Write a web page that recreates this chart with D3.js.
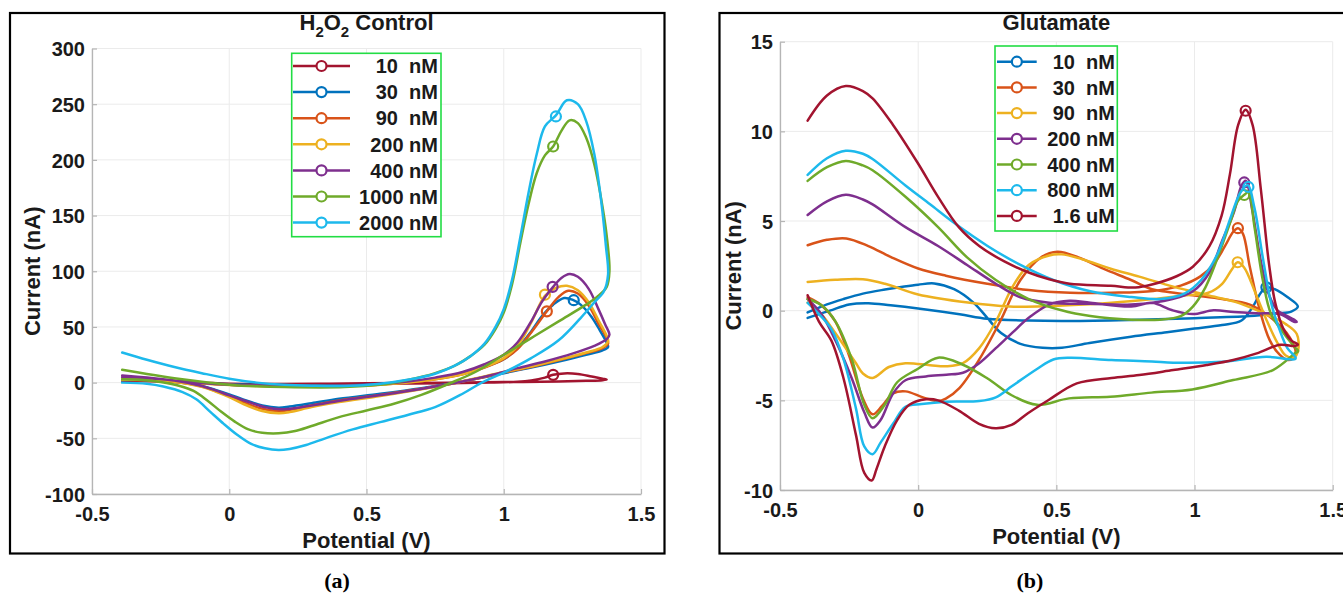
<!DOCTYPE html>
<html>
<head>
<meta charset="utf-8">
<script src="https://cdn.jsdelivr.net/npm/d3@7"></script>
<style>
    html, body { margin: 0; padding: 0; background: #ffffff; }
    svg { display: block; }
    text { font-weight: bold; fill: #1a1a1a; }
</style>
</head>
<body>
<script>
// ---------- shared axis ticks ----------
const xTicks = [-0.5, 0, 0.5, 1, 1.5];
const h2o2YTicks = [-100, -50, 0, 50, 100, 150, 200, 250, 300];
const gluYTicks = [-10, -5, 0, 5, 10, 15];

// MATLAB-like line colours (as they look in the figure)
const matlabColors = {
    blue: '#0072BD', orange: '#D95319', yellow: '#EDB120', purple: '#7E2F8E',
    green: '#6FAA2A', cyan: '#1DB9EC', red: '#A2142F'
};

// ---------- (a) H2O2 control ----------
const h2o2Labels = ['10  nM', '30  nM', '90  nM', '200 nM', '400 nM', '1000 nM', '2000 nM'];
const h2o2ColorKeys = ['red', 'blue', 'orange', 'yellow', 'purple', 'green', 'cyan'];

const h2o2_10nM = [[-0.39, 2.5], [-0.3, 1.5], [-0.2, 0.5], [-0.1, -0.5], [0, -1], [0.2, -1.2], [0.4, -1], [0.6, -0.8], [0.8, -0.5], [0.95, 0], [1.05, 0.8], [1.1, 2], [1.15, 4.5], [1.18, 7], [1.22, 8.3], [1.27, 7.8], [1.32, 5.5], [1.36, 3.5], [1.375, 2.8], [1.36, 2.2], [1.3, 1.6], [1.2, 1], [1.0, 0.5], [0.8, 0], [0.5, -0.6], [0.3, -1.2], [0.15, -1.5], [0, -1], [-0.1, 0], [-0.2, 0.8], [-0.3, 1.3], [-0.39, 1.5]];
const h2o2_30nM = [[-0.39, 3], [-0.3, 2.2], [-0.2, 1], [-0.1, -0.5], [0, -1.5], [0.1, -2.2], [0.2, -2.5], [0.4, -2.5], [0.55, -1.2], [0.65, 0.8], [0.75, 3.5], [0.85, 8], [0.93, 14], [1.0, 21], [1.05, 31], [1.1, 46], [1.14, 60], [1.18, 70], [1.22, 76], [1.25, 74.5], [1.28, 70], [1.32, 59], [1.35, 47], [1.375, 36], [1.38, 32], [1.36, 29], [1.3, 25], [1.2, 19], [1.1, 13.5], [1.0, 8.5], [0.9, 3.5], [0.8, -1], [0.7, -5], [0.55, -10], [0.4, -14.5], [0.3, -18.5], [0.22, -21.5], [0.18, -22.5], [0.12, -20.5], [0.05, -15], [0, -10.5], [-0.05, -6.5], [-0.1, -3], [-0.2, 1], [-0.3, 2.5], [-0.39, 3]];
const h2o2_90nM = [[-0.39, 4], [-0.3, 3], [-0.2, 1.5], [-0.1, -0.5], [0, -2], [0.1, -2.8], [0.2, -3], [0.4, -3], [0.55, -1.8], [0.65, 0.2], [0.75, 3], [0.85, 7.5], [0.93, 13.5], [1.0, 21], [1.05, 30], [1.1, 45], [1.157, 64], [1.2, 77], [1.235, 82.5], [1.27, 80], [1.31, 69], [1.345, 53], [1.375, 40], [1.38, 35], [1.36, 31], [1.3, 26.5], [1.2, 20], [1.1, 14], [1.0, 9], [0.9, 3.5], [0.8, -1.5], [0.7, -5.5], [0.55, -11], [0.4, -16], [0.3, -20.5], [0.22, -24.5], [0.18, -25.5], [0.12, -23.5], [0.05, -17.5], [0, -12], [-0.05, -7.5], [-0.1, -3.5], [-0.2, 0.8], [-0.3, 2.3], [-0.39, 2.5]];
const h2o2_200nM = [[-0.39, 3.5], [-0.3, 2.6], [-0.2, 1.2], [-0.1, -0.8], [0, -2.2], [0.1, -3], [0.2, -3.2], [0.4, -3.2], [0.55, -2], [0.65, 0], [0.75, 3], [0.85, 7.5], [0.93, 14], [1.0, 22], [1.05, 33], [1.1, 54], [1.15, 78], [1.19, 85], [1.23, 87], [1.27, 83], [1.31, 72], [1.345, 56], [1.375, 42], [1.38, 37], [1.36, 32], [1.3, 27], [1.2, 20.5], [1.1, 14.5], [1.0, 9.5], [0.9, 4], [0.8, -1.5], [0.7, -6], [0.55, -12], [0.4, -17.5], [0.3, -22], [0.22, -26.5], [0.18, -27.5], [0.12, -25.5], [0.05, -19], [0, -13], [-0.05, -8], [-0.1, -3.8], [-0.2, 0.8], [-0.3, 2.3], [-0.39, 2.5]];
const h2o2_400nM = [[-0.39, 6.5], [-0.3, 4.5], [-0.2, 2], [-0.1, -0.3], [0, -1.8], [0.1, -2.5], [0.2, -2.8], [0.4, -2.8], [0.55, -1.3], [0.65, 1], [0.75, 4.5], [0.85, 9.5], [0.93, 16.5], [1.0, 25], [1.05, 36], [1.1, 55], [1.14, 73], [1.18, 86], [1.21, 94], [1.24, 97.5], [1.27, 95], [1.31, 84], [1.345, 66], [1.37, 52], [1.385, 43], [1.375, 39], [1.33, 33], [1.25, 26], [1.15, 19], [1.05, 13], [0.95, 6.5], [0.85, 1], [0.75, -3.5], [0.6, -9.5], [0.45, -14.5], [0.35, -18.5], [0.25, -22.5], [0.19, -24], [0.13, -22], [0.06, -16.5], [0, -11.5], [-0.05, -7], [-0.1, -3], [-0.2, 2], [-0.3, 4], [-0.39, 5]];
const h2o2_1000nM = [[-0.39, 11.5], [-0.3, 7.8], [-0.2, 4], [-0.1, 0.8], [0, -1.8], [0.1, -3.3], [0.2, -4], [0.42, -4], [0.55, -1.8], [0.65, 2.4], [0.75, 8.5], [0.82, 15], [0.88, 24], [0.93, 34], [0.97, 48], [1.0, 63], [1.03, 88], [1.06, 125], [1.09, 160], [1.12, 188], [1.15, 204], [1.18, 212], [1.21, 226], [1.24, 235.5], [1.27, 233], [1.3, 220], [1.33, 196], [1.355, 165], [1.375, 132], [1.385, 100], [1.375, 86], [1.34, 77], [1.3, 70], [1.2, 55], [1.1, 40], [1.0, 25], [0.9, 10], [0.8, -1], [0.7, -11], [0.6, -19], [0.5, -25], [0.4, -31], [0.3, -39], [0.24, -43.5], [0.18, -45.5], [0.12, -45], [0.07, -42], [0.02, -35], [-0.03, -26], [-0.08, -16], [-0.13, -7.5], [-0.18, -3], [-0.25, 0.5], [-0.32, 2.5], [-0.39, 3]];
const h2o2_2000nM = [[-0.39, 27], [-0.3, 20.5], [-0.2, 14], [-0.1, 8.5], [0, 3.5], [0.1, 0], [0.2, -2], [0.3, -2.8], [0.42, -3], [0.55, -1], [0.65, 2.5], [0.75, 8], [0.82, 15], [0.88, 24], [0.93, 35], [0.97, 50], [1.0, 66], [1.03, 92], [1.06, 130], [1.09, 170], [1.12, 205], [1.15, 230], [1.19, 240], [1.23, 253.5], [1.27, 250], [1.3, 235], [1.33, 205], [1.355, 163], [1.372, 123], [1.38, 97], [1.365, 82], [1.33, 72], [1.28, 58], [1.2, 38], [1.1, 22], [1.0, 9], [0.92, 0], [0.85, -10], [0.75, -22], [0.65, -29], [0.55, -35.5], [0.45, -42], [0.35, -50], [0.28, -56], [0.22, -59.5], [0.18, -60.5], [0.13, -59], [0.08, -55], [0.03, -47], [-0.02, -37], [-0.07, -26], [-0.12, -15], [-0.17, -8.5], [-0.24, -3.5], [-0.3, -1], [-0.39, 0]];
const h2o2Markers = [[1.18, 7], [1.255, 74], [1.157, 64], [1.15, 79], [1.178, 86], [1.18, 212], [1.19, 239]];

// ---------- (b) Glutamate ----------
const gluLabels = ['10  nM', '30  nM', '90  nM', '200 nM', '400 nM', '800 nM', '1.6 uM'];
const gluColorKeys = ['blue', 'orange', 'yellow', 'purple', 'green', 'cyan', 'red'];

const glu_10nM = [[-0.4, -0.1], [-0.33, 0.35], [-0.27, 0.65], [-0.2, 0.95], [-0.12, 1.18], [-0.05, 1.35], [0.0, 1.45], [0.058, 1.52], [0.13, 1.2], [0.2, 0.45], [0.25, -0.4], [0.3, -1.25], [0.37, -1.85], [0.45, -2.07], [0.52, -2.07], [0.62, -1.8], [0.77, -1.45], [0.9, -1.2], [1.0, -1.0], [1.1, -0.8], [1.17, -0.55], [1.21, 0.2], [1.24, 1.0], [1.26, 1.3], [1.29, 1.2], [1.336, 0.76], [1.374, 0.23], [1.35, -0.05], [1.3, -0.15], [1.2, -0.3], [1.0, -0.42], [0.8, -0.5], [0.55, -0.57], [0.4, -0.55], [0.25, -0.45], [0.15, -0.2], [0.0, 0.12], [-0.1, 0.3], [-0.18, 0.42], [-0.25, 0.35], [-0.32, 0.0], [-0.4, -0.4]];
const glu_30nM = [[-0.4, 3.65], [-0.33, 3.95], [-0.26, 4.03], [-0.18, 3.6], [-0.1, 3.0], [0.0, 2.35], [0.1, 1.95], [0.25, 1.5], [0.4, 1.15], [0.55, 1.0], [0.7, 1.0], [0.85, 1.1], [0.95, 1.4], [1.02, 1.9], [1.07, 2.6], [1.11, 3.6], [1.14, 4.4], [1.157, 4.6], [1.175, 4.3], [1.2, 2.45], [1.236, 0.04], [1.272, -1.64], [1.309, -2.47], [1.338, -2.75], [1.36, -2.6], [1.366, -2.3], [1.345, -1.5], [1.32, -1.0], [1.26, -0.2], [1.2, 0.34], [1.1, 0.65], [1.0, 0.85], [0.9, 1.05], [0.846, 1.2], [0.77, 1.71], [0.67, 2.34], [0.58, 2.97], [0.504, 3.29], [0.444, 2.97], [0.37, 1.71], [0.296, -0.61], [0.221, -2.72], [0.15, -4.3], [0.1, -4.9], [0.072, -5.04], [0.02, -4.85], [-0.046, -4.5], [-0.091, -4.62], [-0.13, -5.3], [-0.165, -5.78], [-0.2, -4.9], [-0.25, -2.5], [-0.3, -0.6], [-0.35, 0.3], [-0.4, 0.75]];
const glu_90nM = [[-0.4, 1.6], [-0.3, 1.72], [-0.2, 1.75], [-0.12, 1.5], [0.0, 0.9], [0.18, 0.45], [0.33, 0.23], [0.47, 0.25], [0.7, 0.44], [0.85, 0.65], [0.97, 0.86], [1.05, 1.0], [1.1, 1.5], [1.135, 2.3], [1.156, 2.7], [1.18, 2.4], [1.22, 1.0], [1.26, -0.5], [1.3, -1.8], [1.33, -2.5], [1.36, -2.6], [1.375, -2.2], [1.37, -1.3], [1.33, -0.75], [1.25, -0.15], [1.164, 0.41], [1.044, 0.87], [0.923, 1.34], [0.8, 1.9], [0.697, 2.34], [0.593, 2.87], [0.519, 3.14], [0.474, 3.08], [0.4, 2.55], [0.34, 1.29], [0.281, -0.61], [0.221, -2.09], [0.162, -2.93], [0.102, -3.1], [0.043, -3.04], [-0.046, -2.93], [-0.106, -3.14], [-0.165, -3.75], [-0.2, -3.5], [-0.225, -2.93], [-0.3, -1.24], [-0.35, -0.2], [-0.4, 0.45]];
const glu_200nM = [[-0.4, 5.34], [-0.33, 6.1], [-0.262, 6.46], [-0.2, 6.2], [-0.165, 5.93], [-0.046, 4.66], [0.072, 3.61], [0.177, 2.55], [0.281, 1.5], [0.37, 0.75], [0.474, 0.44], [0.623, 0.38], [0.771, 0.34], [0.92, 0.65], [0.994, 1.08], [1.054, 2.13], [1.098, 3.82], [1.143, 5.51], [1.17, 6.98], [1.185, 7.25], [1.21, 5.51], [1.24, 2.76], [1.27, 0.86], [1.3, 0.02], [1.322, -0.19], [1.36, -0.5], [1.37, -0.62], [1.36, -0.62], [1.31, -0.2], [1.225, -0.15], [1.143, -0.08], [1.069, 0.02], [0.994, -0.19], [0.92, 0.02], [0.846, 0.44], [0.771, 0.23], [0.623, 0.44], [0.548, 0.55], [0.474, 0.34], [0.4, -0.4], [0.34, -1.24], [0.281, -2.09], [0.221, -2.93], [0.162, -3.46], [0.102, -3.57], [0.028, -3.67], [-0.046, -3.88], [-0.091, -4.62], [-0.136, -6.1], [-0.165, -6.52], [-0.195, -5.67], [-0.24, -3.78], [-0.299, -1.67], [-0.35, -0.2], [-0.4, 0.65]];
const glu_400nM = [[-0.4, 7.24], [-0.33, 8.0], [-0.262, 8.35], [-0.2, 8.1], [-0.165, 7.83], [-0.046, 6.35], [0.072, 4.66], [0.177, 2.97], [0.281, 1.71], [0.4, 0.65], [0.519, 0.02], [0.623, -0.3], [0.771, -0.5], [0.875, -0.5], [0.95, -0.3], [0.994, 0.23], [1.039, 1.29], [1.084, 2.97], [1.128, 4.87], [1.158, 6.14], [1.18, 6.46], [1.195, 6.6], [1.217, 4.66], [1.247, 1.71], [1.277, -0.19], [1.322, -1.24], [1.366, -2.09], [1.375, -2.25], [1.363, -2.38], [1.284, -3.31], [1.14, -3.87], [0.992, -4.39], [0.844, -4.57], [0.695, -4.8], [0.546, -4.89], [0.43, -5.25], [0.34, -4.73], [0.251, -3.78], [0.16, -3.0], [0.072, -2.62], [-0.002, -3.25], [-0.076, -3.99], [-0.121, -5.25], [-0.165, -6.0], [-0.195, -5.25], [-0.24, -2.72], [-0.299, -0.61], [-0.35, 0.3], [-0.4, 0.65]];
const glu_800nM = [[-0.4, 7.57], [-0.33, 8.5], [-0.262, 8.92], [-0.2, 8.75], [-0.165, 8.46], [-0.046, 6.98], [0.043, 5.93], [0.132, 4.87], [0.251, 3.61], [0.37, 2.55], [0.489, 1.71], [0.623, 1.08], [0.771, 0.76], [0.875, 0.65], [0.965, 0.97], [1.024, 1.71], [1.084, 3.19], [1.128, 5.08], [1.165, 6.56], [1.192, 7.0], [1.217, 5.72], [1.247, 2.97], [1.277, 0.44], [1.307, -1.03], [1.336, -2.09], [1.366, -2.62], [1.363, -2.71], [1.26, -2.57], [1.1, -2.85], [0.923, -2.9], [0.846, -2.83], [0.7, -2.75], [0.548, -2.62], [0.489, -2.72], [0.43, -3.25], [0.34, -4.2], [0.281, -4.83], [0.221, -5.04], [0.102, -5.08], [0.013, -5.21], [-0.046, -5.36], [-0.091, -6.31], [-0.136, -7.36], [-0.165, -8.0], [-0.195, -7.57], [-0.225, -5.46], [-0.27, -2.72], [-0.314, -1.03], [-0.359, -0.19], [-0.4, 0.44]];
const glu_1p6uM = [[-0.4, 10.6], [-0.33, 12.0], [-0.262, 12.53], [-0.2, 12.25], [-0.165, 11.84], [-0.091, 10.36], [-0.002, 8.25], [0.072, 6.35], [0.147, 4.66], [0.221, 3.61], [0.31, 2.76], [0.4, 2.13], [0.474, 1.75], [0.548, 1.5], [0.697, 1.39], [0.786, 1.29], [0.846, 1.46], [0.935, 1.92], [0.994, 2.45], [1.054, 3.6], [1.098, 5.3], [1.128, 7.6], [1.158, 10.36], [1.185, 11.2], [1.21, 10.36], [1.24, 6.77], [1.27, 2.55], [1.292, 0.44], [1.322, -1.03], [1.351, -1.67], [1.374, -1.88], [1.363, -1.97], [1.31, -1.9], [1.225, -2.38], [1.14, -2.75], [1.044, -3.03], [0.923, -3.31], [0.8, -3.59], [0.7, -3.75], [0.574, -4.05], [0.472, -4.98], [0.397, -5.72], [0.338, -6.37], [0.28, -6.56], [0.22, -6.31], [0.147, -5.57], [0.072, -5.0], [0.028, -4.94], [-0.032, -5.25], [-0.076, -6.1], [-0.121, -7.57], [-0.151, -8.84], [-0.168, -9.47], [-0.195, -9.05], [-0.225, -6.94], [-0.27, -3.78], [-0.314, -1.67], [-0.359, -0.61], [-0.4, 0.86]];
const gluMarkers = [[1.26, 1.3], [1.157, 4.6], [1.156, 2.7], [1.18, 7.15], [1.18, 6.45], [1.195, 6.9], [1.185, 11.15]];

const sansFont = '"Liberation Sans", Arial, sans-serif';
const serifFont = '"Liberation Serif", "Times New Roman", serif';

/**
 * Draw one CV panel: frame, grid, axes, curves, legend and caption
 * @param svg root svg selection
 * @param p panel settings
 */
const renderPanel = (svg, p) => {
    let g = svg.append('g').style('font-family', sansFont);

    // outer black frame
    g.append('rect')
        .attr('x', p.frame[0]).attr('y', p.frame[1])
        .attr('width', p.frame[2] - p.frame[0]).attr('height', p.frame[3] - p.frame[1])
        .attr('fill', 'none').attr('stroke', '#000').attr('stroke-width', 2.2);

    let x = d3.scaleLinear().domain([-0.5, 1.5]).range([p.left, p.right]);
    let y = d3.scaleLinear().domain(p.yDomain).range([p.bottom, p.top]);

    // grid
    g.append('g').selectAll('line').data(xTicks).enter().append('line')
        .attr('x1', d => x(d)).attr('x2', d => x(d))
        .attr('y1', p.top).attr('y2', p.bottom)
        .attr('stroke', '#ebebeb').attr('stroke-width', 1);
    g.append('g').selectAll('line').data(p.yTicks).enter().append('line')
        .attr('x1', p.left).attr('x2', p.right)
        .attr('y1', d => y(d)).attr('y2', d => y(d))
        .attr('stroke', '#ebebeb').attr('stroke-width', 1);

    // axes with inward ticks
    let xAxis = g.append('g').attr('transform', `translate(0,${p.bottom})`)
        .call(d3.axisBottom(x).tickValues(xTicks).tickSizeInner(-5).tickSizeOuter(0).tickFormat(d => String(d)));
    let yAxis = g.append('g').attr('transform', `translate(${p.left},0)`)
        .call(d3.axisLeft(y).tickValues(p.yTicks).tickSizeInner(-5).tickSizeOuter(0).tickFormat(d => String(d)));
    [xAxis, yAxis].forEach(a => {
        a.attr('font-family', null).attr('font-size', null);
        a.select('.domain').attr('stroke', '#b5b5b5').attr('stroke-width', 1.3);
        a.selectAll('.tick line').attr('stroke', '#b5b5b5').attr('stroke-width', 1.2);
        a.selectAll('.tick text')
            .attr('font-size', 20).attr('font-weight', 'bold').attr('fill', '#1a1a1a');
    });
    xAxis.selectAll('.tick text').attr('y', 0).attr('dy', null).attr('transform', 'translate(0,27)');
    yAxis.selectAll('.tick text').attr('x', -7).attr('dy', '0.36em');

    // curves
    let line = d3.line()
        .x(d => x(d[0])).y(d => y(d[1]))
        .curve(d3.curveCatmullRom.alpha(0.5));
    p.series.forEach(s => {
        g.append('path')
            .attr('d', line(s.points))
            .attr('fill', 'none').attr('stroke', s.color)
            .attr('stroke-width', 2.5).attr('stroke-linejoin', 'round').attr('stroke-linecap', 'round');
        g.append('circle')
            .attr('cx', x(s.marker[0])).attr('cy', y(s.marker[1])).attr('r', 5)
            .attr('fill', 'none').attr('stroke', s.color).attr('stroke-width', 2.2);
    });

    // title
    let cx = (p.left + p.right) / 2;
    let title = g.append('text').attr('x', cx).attr('y', 30)
        .attr('text-anchor', 'middle').attr('font-size', 22);
    p.title.forEach(part => {
        title.append('tspan').text(part.t)
            .attr('font-size', part.sub ? 15 : 22)
            .attr('dy', part.dy || 0);
    });

    // axis labels
    g.append('text').attr('x', cx).attr('y', p.bottom + 54)
        .attr('text-anchor', 'middle').attr('font-size', 22).text('Potential (V)');
    g.append('text')
        .attr('transform', `translate(${p.yLabelX},${(p.top + p.bottom) / 2}) rotate(-90)`)
        .attr('text-anchor', 'middle').attr('font-size', 22).text('Current (nA)');

    // legend
    let L = p.legend;
    g.append('rect')
        .attr('x', L.x0).attr('y', L.y0).attr('width', L.x1 - L.x0).attr('height', L.y1 - L.y0)
        .attr('fill', '#fff').attr('stroke', '#22dd44').attr('stroke-width', 1.6);
    let rows = g.append('g').selectAll('g').data(p.series).enter().append('g')
        .attr('transform', (d, i) => `translate(0,${L.row0 + i * L.step})`);
    rows.append('line')
        .attr('x1', L.lineX0).attr('x2', L.lineX1).attr('y1', 0).attr('y2', 0)
        .attr('stroke', d => d.color).attr('stroke-width', 2.5);
    rows.append('circle')
        .attr('cx', (L.lineX0 + L.lineX1) / 2).attr('cy', 0).attr('r', 5)
        .attr('fill', '#fff').attr('stroke', d => d.color).attr('stroke-width', 2.2);
    rows.append('text')
        .attr('x', L.textX).attr('y', 0).attr('dy', '0.36em')
        .attr('text-anchor', 'end').attr('font-size', 20)
        .style('white-space', 'pre')
        .text(d => d.label);

    // caption, serif
    g.append('text').attr('x', p.captionX).attr('y', 588)
        .attr('text-anchor', 'middle').attr('font-size', 22)
        .style('font-family', serifFont)
        .style('fill', '#000')
        .text(p.caption);
};

const buildSeries = (labels, colorKeys, pointSets, markers) =>
    labels.map((label, i) => ({
        label: label,
        color: matlabColors[colorKeys[i]],
        points: pointSets[i],
        marker: markers[i]
    }));

let svg = d3.select('body').append('svg').attr('width', 1343).attr('height', 594);

renderPanel(svg, {
    frame: [10, 13, 664.5, 553.5],
    left: 92, right: 641, top: 48.5, bottom: 494,
    yDomain: [-100, 300], yTicks: h2o2YTicks,
    yLabelX: 40,
    title: [{t: 'H'}, {t: '2', sub: true, dy: 7}, {t: 'O', dy: -7}, {t: '2', sub: true, dy: 7}, {t: ' Control', dy: -7}],
    series: buildSeries(h2o2Labels, h2o2ColorKeys,
        [h2o2_10nM, h2o2_30nM, h2o2_90nM, h2o2_200nM, h2o2_400nM, h2o2_1000nM, h2o2_2000nM], h2o2Markers),
    legend: {x0: 291.7, y0: 53.3, x1: 441, y1: 236.7, row0: 66, step: 26.1, lineX0: 293, lineX1: 350, textX: 438},
    caption: '(a)', captionX: 337
});

renderPanel(svg, {
    frame: [719.5, 13, 1360, 553.5],
    left: 780, right: 1332.7, top: 41.7, bottom: 490,
    yDomain: [-10, 15], yTicks: gluYTicks,
    yLabelX: 741,
    title: [{t: 'Glutamate'}],
    series: buildSeries(gluLabels, gluColorKeys,
        [glu_10nM, glu_30nM, glu_90nM, glu_200nM, glu_400nM, glu_800nM, glu_1p6uM], gluMarkers),
    legend: {x0: 995, y0: 46, x1: 1117.3, y1: 231, row0: 61.7, step: 25.7, lineX0: 997, lineX1: 1036.7, textX: 1115},
    caption: '(b)', captionX: 1030
});
</script>
</body>
</html>
